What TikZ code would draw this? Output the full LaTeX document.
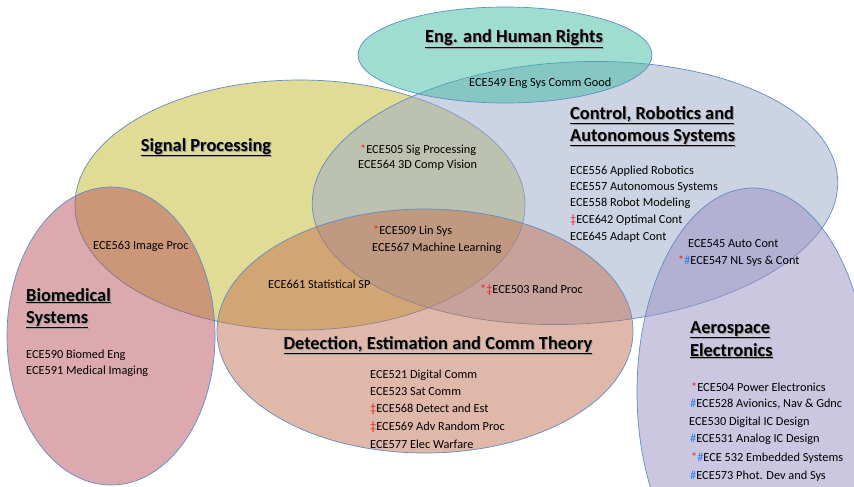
\documentclass[tikz,border=0pt]{standalone}
\usepackage{fontspec}
\setmainfont{Carlito}
\definecolor{cteal}{RGB}{65,189,165}
\definecolor{cctrl}{RGB}{155,169,201}
\definecolor{cyel}{RGB}{195,185,45}
\definecolor{cpink}{RGB}{185,85,95}
\definecolor{cdet}{RGB}{195,115,85}
\definecolor{caero}{RGB}{155,145,195}
\definecolor{edge}{RGB}{95,140,195}
\definecolor{mkred}{RGB}{235,30,30}
\definecolor{mkblue}{RGB}{40,130,240}
\newcommand\rs{{\color{mkred}*}}
\newcommand\rd{{\color{mkred}‡}}
\newcommand\bh{{\color{mkblue}\#}}
\begin{document}
\begin{tikzpicture}[x=1pt,y=-1pt,
  blob/.style={fill opacity=0.5, draw=edge, line width=0.7pt},
  crs/.style={anchor=base west, inner sep=0pt, font=\fontsize{12.3}{14}\selectfont},
  ttl/.style={inner sep=0pt, font=\fontsize{18.4}{22}\selectfont\bfseries, align=left},
  shd/.style={ttl, text=black!40}
]
\fill[white] (0,0) rectangle (854,487);
\clip (0,0) rectangle (854,487);
% ellipses
\path[blob, fill=cyel] (300,205) ellipse [x radius=225pt, y radius=125pt];
\path[blob, fill=cctrl, rotate around={3:(575,193)}] (575,193) ellipse [x radius=263pt, y radius=131pt];
\path[blob, fill=cteal] (505,55) ellipse [x radius=147pt, y radius=48pt];
\path[blob, fill=cdet] (425,331) ellipse [x radius=208pt, y radius=122pt];
\path[blob, fill=cpink] (111,336) ellipse [x radius=104pt, y radius=149pt];
\path[blob, fill=caero] (753,392) ellipse [x radius=116pt, y radius=204pt];
% titles
\node[shd, anchor=base] (t1s) at (515,44) {\underline{Eng. and Human Rights}};
\node[ttl, anchor=base] (t1) at (514,43) {\underline{Eng. and Human Rights}};
\node[shd, anchor=base] (t2s) at (207,152) {\underline{Signal Processing}};
\node[ttl, anchor=base] (t2) at (206,151) {\underline{Signal Processing}};
\node[shd, anchor=base west] (t3as) at (571,120) {\underline{Control, Robotics and}};
\node[ttl, anchor=base west] (t3a) at (570,119) {\underline{Control, Robotics and}};
\node[shd, anchor=base west] (t3bs) at (571,142) {\underline{Autonomous Systems}};
\node[ttl, anchor=base west] (t3b) at (570,141) {\underline{Autonomous Systems}};
\node[shd, anchor=base west] (t4as) at (27,302) {\underline{Biomedical}};
\node[ttl, anchor=base west] (t4a) at (26,301) {\underline{Biomedical}};
\node[shd, anchor=base west] (t4bs) at (27,324) {\underline{Systems}};
\node[ttl, anchor=base west] (t4b) at (26,323) {\underline{Systems}};
\node[shd, anchor=base] (t5s) at (439,350) {\underline{Detection, Estimation and Comm Theory}};
\node[ttl, anchor=base] (t5) at (438,349) {\underline{Detection, Estimation and Comm Theory}};
\node[shd, anchor=base west] (t6as) at (691,334) {\underline{Aerospace}};
\node[ttl, anchor=base west] (t6a) at (690,333) {\underline{Aerospace}};
\node[shd, anchor=base west] (t6bs) at (691,357) {\underline{Electronics}};
\node[ttl, anchor=base west] (t6b) at (690,356) {\underline{Electronics}};
% courses
\node[crs] (c549) at (469,87) {ECE549 Eng Sys Comm Good};
\node[crs] (c556) at (570,174) {ECE556 Applied Robotics};
\node[crs] (c557) at (570,190) {ECE557 Autonomous Systems};
\node[crs] (c558) at (570,206) {ECE558 Robot Modeling};
\node[crs] (c642) at (570,223) {\rd ECE642 Optimal Cont};
\node[crs] (c645) at (570,240) {ECE645 Adapt Cont};
\node[crs] (c545) at (688,247) {ECE545 Auto Cont};
\node[crs] (c547) at (678,264) {\rs\bh ECE547 NL Sys \& Cont};
\node[crs] (c505) at (360,153) {\rs ECE505 Sig Processing};
\node[crs] (c564) at (358,168) {ECE564 3D Comp Vision};
\node[crs] (c509) at (373,234) {\rs ECE509 Lin Sys};
\node[crs] (c567) at (372,251) {ECE567 Machine Learning};
\node[crs] (c563) at (93,249) {ECE563 Image Proc};
\node[crs] (c661) at (268,288) {ECE661 Statistical SP};
\node[crs] (c503) at (480,293) {\rs\rd ECE503 Rand Proc};
\node[crs] (c590) at (26,358) {ECE590 Biomed Eng};
\node[crs] (c591) at (26,374) {ECE591 Medical Imaging};
\node[crs] (c521) at (370,378) {ECE521 Digital Comm};
\node[crs] (c523) at (370,395) {ECE523 Sat Comm};
\node[crs] (c568) at (370,412) {\rd ECE568 Detect and Est};
\node[crs] (c569) at (370,430) {\rd ECE569 Adv Random Proc};
\node[crs] (c577) at (370,448) {ECE577 Elec Warfare};
\node[crs] (c504) at (691,391) {\rs ECE504 Power Electronics};
\node[crs] (c528) at (690,407) {\bh ECE528 Avionics, Nav \& Gdnc};
\node[crs] (c530) at (689,425) {ECE530 Digital IC Design};
\node[crs] (c531) at (690,442) {\bh ECE531 Analog IC Design};
\node[crs] (c532) at (691,461) {\rs\bh ECE 532 Embedded Systems};
\node[crs] (c573) at (690,479) {\bh ECE573 Phot. Dev and Sys};
\end{tikzpicture}
\end{document}
